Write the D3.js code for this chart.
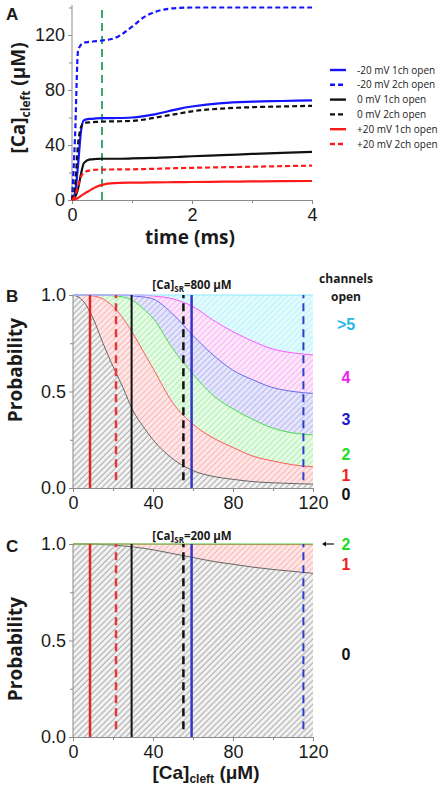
<!DOCTYPE html>
<html><head><meta charset="utf-8">
<script src="https://cdn.jsdelivr.net/npm/d3@7"></script>
<style>
body{margin:0;background:#fff}
svg{display:block}
text{font-family:"Liberation Sans",Arial,sans-serif;fill:#1a1a1a}
.lab{font-family:"Open Sans",sans-serif;font-weight:bold}
.lab2{font-family:"Liberation Sans",Arial,sans-serif;font-weight:bold}
</style>
</head><body>
<svg id="c" width="447" height="786"></svg>
<script>
// ---------- Panel A data ----------
const timeMs = [0,0.05,0.1,0.15,0.2,0.3,0.4,0.5,0.7,1.0,1.2,1.4,1.6,1.8,2.0,2.5,3.0,3.5,4.0];
const neg20_1ch = [0,5,25,50,58,59,59.3,59.5,59.6,60,61,62.5,64.5,66.5,68,70.5,71.5,72,72.5];
const neg20_2ch = [0,45,108,113,114.5,115,115.5,116,117.5,126,133,137,139,139.7,140,140,140,140,140];
const zero_1ch  = [0,2,8,19,27,29.5,29.8,30,30,30.2,30.4,30.7,31,31.4,31.8,32.6,33.5,34.3,35];
const zero_2ch  = [0,10,40,53,56,56.5,56.8,57,57.2,57.5,58.5,60,61.5,63,64.5,66.5,67.5,68,68.5];
const pos20_1ch = [0,0.5,1.5,3,4.5,7,9.5,11,12.3,12.6,12.7,12.8,12.9,13,13.1,13.3,13.5,13.7,13.8];
const pos20_2ch = [0,3,10,17,20,21.5,22,22.1,22.2,22.3,22.5,22.7,23,23.2,23.4,23.8,24.2,24.6,25];
const seriesLabels = ["-20 mV 1ch open","-20 mV 2ch open","0 mV 1ch open","0 mV 2ch open","+20 mV 1ch open","+20 mV 2ch open"];
const markerTime = 0.5;
const timeTicks = [0,2,4], timeMinor = [1,3];
const caTicksA = [0,40,80,120], caMinorA = [20,60,100,140];

// ---------- Panels B & C data (cumulative probabilities) ----------
const caCleft = [0,5,10,15,20,25,30,35,40,50,60,70,80,90,100,110,120];
const sr800_le0 = [1.0,0.97,0.88,0.75,0.63,0.52,0.40,0.32,0.25,0.15,0.09,0.06,0.045,0.033,0.027,0.023,0.02];
const sr800_le1 = [1.0,1.0,0.995,0.98,0.94,0.88,0.80,0.71,0.62,0.44,0.33,0.26,0.21,0.165,0.14,0.12,0.11];
const sr800_le2 = [1.0,1.0,1.0,1.0,0.995,0.99,0.97,0.93,0.88,0.72,0.59,0.48,0.41,0.355,0.31,0.285,0.275];
const sr800_le3 = [1.0,1.0,1.0,1.0,1.0,1.0,0.995,0.99,0.98,0.90,0.79,0.69,0.61,0.56,0.52,0.50,0.49];
const sr800_le4 = [1.0,1.0,1.0,1.0,1.0,1.0,1.0,1.0,0.995,0.98,0.94,0.87,0.81,0.76,0.72,0.70,0.69];
const sr200_le0 = [1.0,1.0,1.0,0.997,0.995,0.99,0.985,0.978,0.97,0.95,0.93,0.91,0.895,0.88,0.868,0.858,0.848];
const sr200_le1 = [1.0,1.0,1.0,1.0,1.0,1.0,1.0,0.999,0.999,0.999,0.998,0.998,0.998,0.997,0.997,0.997,0.997];
const cleftAt05 = [8.5,21.5,29.3,55.2,59.3,115.2]; // order: +20 1ch, +20 2ch, 0 1ch, 0 2ch, -20 1ch, -20 2ch
const probTicks = [0,0.5,1], probMinor = [0.25,0.75];
const caTicksB = [0,40,80,120], caMinorB = [20,60,100];
const channelLabels = ["0","1","2","3","4",">5"];

const svg = d3.select("#c");
const axisCol = "#8a8a8a";

function styleAxis(g){
  g.selectAll("path.domain").attr("stroke",axisCol).attr("stroke-width",1);
  g.selectAll(".tick line").attr("stroke",axisCol);
  g.selectAll(".tick text").style("font-family","'Liberation Sans',Arial,sans-serif").style("font-size","18px").attr("fill","#1a1a1a");
}
function drawAxes(x, y, yTop, xT, xM, yT, yM, xFmt, yFmt){
  const y0 = y.range()[0], x0 = x.range()[0];
  const gx = svg.append("g").attr("transform",`translate(0,${y0})`)
    .call(d3.axisBottom(x).tickValues(xT).tickSize(4).tickPadding(4).tickSizeOuter(0).tickFormat(xFmt));
  styleAxis(gx);
  const gxm = svg.append("g").attr("transform",`translate(0,${y0})`)
    .call(d3.axisBottom(x).tickValues(xM).tickSize(3).tickFormat(""));
  gxm.select("path.domain").remove(); styleAxis(gxm);
  const gy = svg.append("g").attr("transform",`translate(${x0},0)`)
    .call(d3.axisLeft(y).tickValues(yT).tickSize(4).tickPadding(3).tickSizeOuter(0).tickFormat(yFmt));
  styleAxis(gy);
  gy.select("path.domain").attr("d",`M0,${y0}V${yTop}`);
  const gym = svg.append("g").attr("transform",`translate(${x0},0)`)
    .call(d3.axisLeft(y).tickValues(yM).tickSize(3).tickFormat(""));
  gym.select("path.domain").remove(); styleAxis(gym);
}

// ================= Panel A =================
const xA = d3.scaleLinear().domain([0,4]).range([72,312]);
const yA = d3.scaleLinear().domain([0,141.8]).range([200,5]);
const seriesData = [neg20_1ch,neg20_2ch,zero_1ch,zero_2ch,pos20_1ch,pos20_2ch];
const seriesColor = ["#1414ff","#1414ff","#111","#111","#ff1a1a","#ff1a1a"];
const seriesDash = [null,"5,3",null,"5,3",null,"5,3"];

drawAxes(xA,yA,5,timeTicks,timeMinor,caTicksA,caMinorA,d3.format("d"),d3.format("d"));

svg.append("line").attr("x1",xA(markerTime)).attr("x2",xA(markerTime))
  .attr("y1",yA(0)).attr("y2",yA(141.8))
  .attr("stroke","#3aa86a").attr("stroke-width",2).attr("stroke-dasharray","8,5");

const lineA = d3.line().curve(d3.curveMonotoneX);
[1,0,3,2,5,4].forEach(i=>{
  svg.append("path").datum(timeMs.map((t,j)=>[xA(t),yA(seriesData[i][j])]))
    .attr("d",lineA).attr("fill","none").attr("stroke",seriesColor[i])
    .attr("stroke-width",2.2).attr("stroke-dasharray",seriesDash[i]);
});

// legend
seriesLabels.forEach((s,i)=>{
  const yy = 70 + i*14.8;
  svg.append("line").attr("x1",330).attr("x2",346).attr("y1",yy).attr("y2",yy)
    .attr("stroke",seriesColor[i]).attr("stroke-width",2.4).attr("stroke-dasharray",seriesDash[i]);
  svg.append("text").attr("x",357).attr("y",yy+3.5).text(s)
    .style("font-family","'Open Sans',sans-serif").style("font-size","10px");
});

svg.append("text").attr("x",6).attr("y",20).text("A").style("font-size","17px").style("font-weight","bold");
const ylA = svg.append("text").attr("class","lab").attr("transform","translate(25,98) rotate(-90)")
  .attr("text-anchor","middle").style("font-size","19px");
ylA.append("tspan").text("[Ca]");
ylA.append("tspan").text("cleft").style("font-size","12px").attr("dy",5);
ylA.append("tspan").text(" (μM)").attr("dy",-5);
svg.append("text").attr("class","lab").attr("x",190).attr("y",244).attr("text-anchor","middle")
  .style("font-size","19px").text("time (ms)");

// ================= Panels B & C =================
const xB = d3.scaleLinear().domain([0,120]).range([73,313]);
const bandFill  = ["#f3f3f3","#ffe7e7","#e7fce7","#e7e7fc","#fde7fb","#e2fbfe"];
const bandHatch = ["#8c8c8c","#f4a0a0","#96e896","#a0a0ec","#f2a0f0","#a8eef6"];
const bandLine  = ["#666","#ff5a5a","#4ddd4d","#6a6aee","#ff5aff","#8eeefc"];
const labelCol  = ["#111","#f01e1e","#22dd22","#1a1acc","#f01ef0","#29b6ea"];

const defs = svg.append("defs");
bandFill.forEach((f,i)=>{
  const p = defs.append("pattern").attr("id","h"+i).attr("patternUnits","userSpaceOnUse")
    .attr("width",4.2).attr("height",8).attr("patternTransform","rotate(45)");
  p.append("rect").attr("width",4.2).attr("height",8).attr("fill",f);
  p.append("line").attr("x1",1).attr("x2",1).attr("y1",0).attr("y2",8)
    .attr("stroke",bandHatch[i]).attr("stroke-width",0.8);
});

const markerColor = ["#e02424","#e23a3a","#111","#111","#3535c8","#2a40c8"];
const markerDash  = [null,"8,5",null,"8,5",null,"8,5"];
const markerWidth = [2.5,2.5,2,2.5,2.5,2];

function probPanel(yS, cum, titleSR, titleY){
  const bounds = [caCleft.map(()=>0), ...cum, caCleft.map(()=>1)];
  for(let i=0;i<bounds.length-1;i++){
    const area = d3.area().curve(d3.curveMonotoneX)
      .x((d,j)=>xB(caCleft[j])).y0((d,j)=>yS(bounds[i][j])).y1((d,j)=>yS(bounds[i+1][j]));
    svg.append("path").datum(caCleft).attr("d",area).attr("fill",`url(#h${i})`);
  }
  const ln = d3.line().curve(d3.curveMonotoneX).x((d,j)=>xB(caCleft[j]));
  for(let i=1;i<bounds.length;i++){
    const b = bounds[i];
    svg.append("path").datum(caCleft).attr("d",ln.y((d,j)=>yS(b[j])))
      .attr("fill","none").attr("stroke",bandLine[i-1]).attr("stroke-width",i===bounds.length-1?1.2:1);
  }
  cleftAt05.forEach((v,i)=>{
    svg.append("line").attr("x1",xB(v)).attr("x2",xB(v)).attr("y1",yS(markerDash[i]?0.04:0)).attr("y2",yS(1))
      .attr("stroke",markerColor[i]).attr("stroke-width",markerWidth[i]).attr("stroke-dasharray",markerDash[i]);
  });
  drawAxes(xB,yS,yS(1),caTicksB,caMinorB,probTicks,probMinor,d3.format("d"),d3.format(".1f"));
  const t = svg.append("text").attr("class","lab").attr("x",192).attr("y",titleY)
    .attr("text-anchor","middle").style("font-size","11.5px");
  t.append("tspan").text("[Ca]");
  t.append("tspan").text("SR").style("font-size","8px").attr("dy",3);
  t.append("tspan").text("=" + titleSR + " μM").attr("dy",-3);
}

const yB = d3.scaleLinear().domain([0,1]).range([488,295]);
probPanel(yB,[sr800_le0,sr800_le1,sr800_le2,sr800_le3,sr800_le4],"800",289);
const yC = d3.scaleLinear().domain([0,1]).range([737,544]);
probPanel(yC,[sr200_le0,sr200_le1],"200",540);

svg.append("text").attr("x",6).attr("y",302).text("B").style("font-size","17px").style("font-weight","bold");
svg.append("text").attr("x",6).attr("y",552).text("C").style("font-size","17px").style("font-weight","bold");
svg.append("text").attr("class","lab").attr("transform","translate(22,370) rotate(-90)")
  .attr("text-anchor","middle").style("font-size","19px").text("Probability");
svg.append("text").attr("class","lab").attr("transform","translate(22,649) rotate(-90)")
  .attr("text-anchor","middle").style("font-size","19px").text("Probability");
const xlC = svg.append("text").attr("class","lab2").attr("x",206).attr("y",779)
  .attr("text-anchor","middle").style("font-size","19px");
xlC.append("tspan").text("[Ca]");
xlC.append("tspan").text("cleft").style("font-size","12px").attr("dy",4);
xlC.append("tspan").text(" (μM)").attr("dy",-4);

// channel labels
svg.append("text").attr("class","lab").attr("x",346).attr("y",283).attr("text-anchor","middle").style("font-size","12px").text("channels");
svg.append("text").attr("class","lab").attr("x",346).attr("y",301).attr("text-anchor","middle").style("font-size","12px").text("open");
const labYB = [500,481,460,425,383,330];
channelLabels.forEach((c,i)=>{
  svg.append("text").attr("class","lab2").attr("x",346).attr("y",labYB[i]).attr("text-anchor","middle")
    .style("font-size","16px").style("fill",labelCol[i]).text(c);
});
const labYC = [660,570,550];
[0,1,2].forEach(i=>{
  svg.append("text").attr("class","lab2").attr("x",346).attr("y",labYC[i]).attr("text-anchor","middle")
    .style("font-size","16px").style("fill",labelCol[i]).text(channelLabels[i]);
});
// arrow pointing to thin band in C
svg.append("line").attr("x1",334).attr("x2",325).attr("y1",544).attr("y2",544).attr("stroke","#111").attr("stroke-width",1.2);
svg.append("path").attr("d","M322,544 l4,-2.5 v5 z").attr("fill","#111");
</script>
</body></html>
